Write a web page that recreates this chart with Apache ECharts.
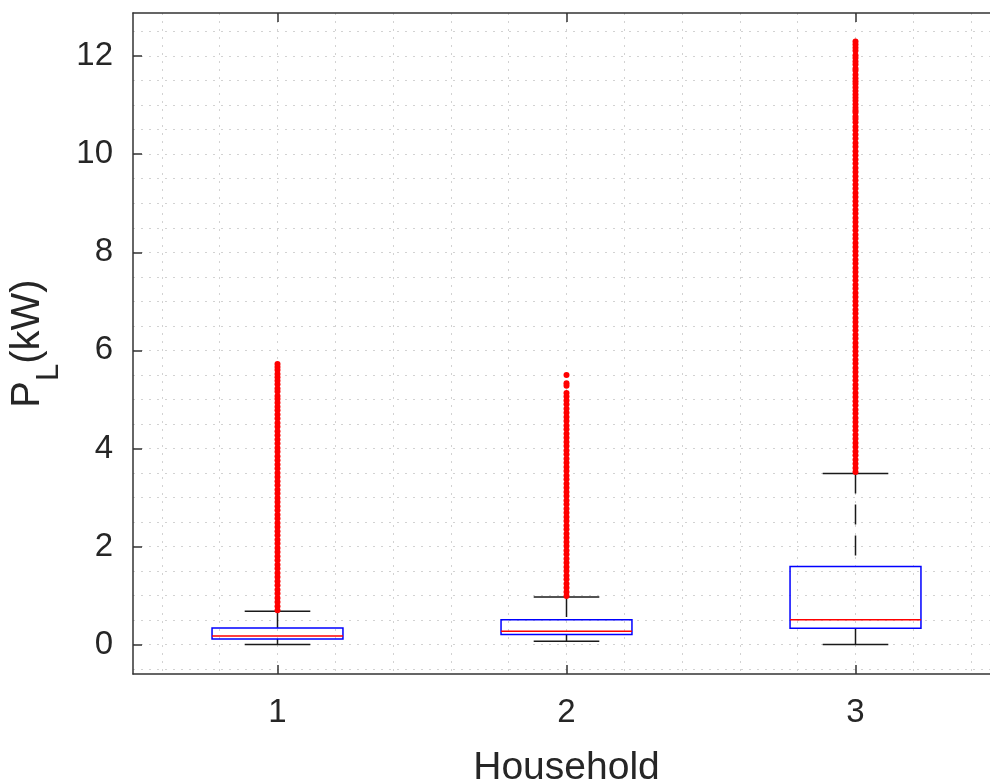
<!DOCTYPE html>
<html>
<head>
<meta charset="utf-8">
<script src="https://cdn.jsdelivr.net/npm/echarts@6/dist/echarts.min.js"></script>
<style>
html,body{margin:0;padding:0;background:#fff;}
#chart{width:990px;height:782px;}
</style>
</head>
<body>
<div id="chart"></div>
<script>
// ---- data ----
const households = [1, 2, 3];
const lowerWhisker = [0.00, 0.067, 0.00];
const q1 = [0.116, 0.204, 0.333];
const median = [0.177, 0.270, 0.504];
const q3 = [0.340, 0.504, 1.590];
const upperWhisker = [0.680, 0.970, 3.490];

const outliersH1 = [0.70,0.78,0.87,0.95,1.04,1.12,1.21,1.29,1.38,1.46,1.55,1.63,1.72,1.80,1.89,1.97,2.06,2.14,2.23,2.31,2.40,2.48,2.57,2.65,2.74,2.82,2.91,2.99,3.08,3.16,3.25,3.33,3.42,3.50,3.59,3.67,3.76,3.84,3.93,4.01,4.10,4.18,4.27,4.35,4.44,4.52,4.61,4.69,4.78,4.85,4.93,5.01,5.07,5.16,5.22,5.31,5.38,5.45,5.52,5.60,5.66,5.72];
const outliersH2 = [0.99,1.07,1.16,1.24,1.33,1.41,1.50,1.58,1.67,1.75,1.84,1.92,2.01,2.09,2.18,2.26,2.35,2.43,2.52,2.60,2.69,2.77,2.86,2.94,3.03,3.11,3.20,3.28,3.37,3.45,3.54,3.62,3.71,3.79,3.88,3.96,4.05,4.13,4.22,4.30,4.39,4.47,4.56,4.64,4.73,4.81,4.90,4.98,5.06,5.13,5.28,5.33,5.50];
const outliersH3 = [3.52,3.60,3.69,3.77,3.86,3.94,4.03,4.11,4.20,4.28,4.37,4.45,4.54,4.62,4.71,4.79,4.88,4.96,5.05,5.13,5.22,5.30,5.39,5.47,5.56,5.64,5.73,5.81,5.90,5.98,6.07,6.15,6.24,6.32,6.41,6.49,6.58,6.66,6.75,6.83,6.92,7.00,7.09,7.17,7.26,7.34,7.43,7.51,7.60,7.68,7.77,7.85,7.94,8.02,8.11,8.19,8.28,8.36,8.45,8.53,8.62,8.70,8.79,8.87,8.96,9.04,9.13,9.21,9.30,9.38,9.47,9.55,9.64,9.72,9.81,9.89,9.98,10.06,10.15,10.23,10.32,10.40,10.49,10.56,10.65,10.72,10.77,10.85,10.89,10.95,11.02,11.09,11.15,11.22,11.29,11.36,11.43,11.49,11.55,11.62,11.70,11.75,11.83,11.89,11.96,12.02,12.11,12.17,12.24,12.30];

const xTickValues = [1, 2, 3];
const yTickValues = [0, 2, 4, 6, 8, 10, 12];
const xGridValues = [0.6, 0.8, 1.0, 1.2, 1.4, 1.6, 1.8, 2.0, 2.2, 2.4, 2.6, 2.8, 3.0, 3.2, 3.4];
const yGridValues = [-0.5, 0, 0.5, 1, 1.5, 2, 2.5, 3, 3.5, 4, 4.5, 5, 5.5, 6, 6.5, 7, 7.5, 8, 8.5, 9, 9.5, 10, 10.5, 11, 11.5, 12, 12.5];
const xRange = [0.5, 3.5];
const yRange = [-0.6, 12.88];

// ---- chart ----
const chart = echarts.init(document.getElementById('chart'), null, {renderer: 'canvas'});
const FONT = "'Liberation Sans', Arial, Helvetica, sans-serif";
const TXT = '#262626';
const AX = '#333333';
const TICK_LEN = 9;
const PLOT_H = 661;
const gridLine = {show: true, lineStyle: {color: '#d2d2d2', width: 1, type: [2, 6]}};

const boxData = households.map((h, i) => [h, lowerWhisker[i], q1[i], median[i], q3[i], upperWhisker[i]]);
const outlierSets = [outliersH1, outliersH2, outliersH3];
const outlierData = [];
outlierSets.forEach((arr, i) => arr.forEach(v => outlierData.push([households[i], v])));

const BOX_HALF = 0.2265, CAP_HALF = 0.1135;

function renderBox(params, api) {
  const x = api.value(0);
  const lo = api.value(1), a = api.value(2), m = api.value(3), b = api.value(4), hi = api.value(5);
  const c = (xx, yy) => api.coord([xx, yy]);
  const black = {stroke: '#1a1a1a', lineWidth: 1.5, fill: null};
  const dashed = {stroke: '#1a1a1a', lineWidth: 1.5, fill: null, lineDash: [20, 11]};
  const line = (p1, p2, style) => ({type: 'line', shape: {x1: p1[0], y1: p1[1], x2: p2[0], y2: p2[1]}, style: style});
  const tl = c(x - BOX_HALF, b), br = c(x + BOX_HALF, a);
  return {
    type: 'group',
    children: [
      line(c(x, hi), c(x, b), dashed),
      line(c(x, a), c(x, lo), dashed),
      line(c(x - CAP_HALF, hi), c(x + CAP_HALF, hi), black),
      line(c(x - CAP_HALF, lo), c(x + CAP_HALF, lo), black),
      {type: 'rect', shape: {x: tl[0], y: tl[1], width: br[0] - tl[0], height: br[1] - tl[1]},
       style: {stroke: '#0000ff', lineWidth: 1.5, fill: null}},
      line(c(x - BOX_HALF, m), c(x + BOX_HALF, m), {stroke: '#ff0000', lineWidth: 1.5})
    ]
  };
}

const option = {
  backgroundColor: '#ffffff',
  animation: false,
  grid: {left: 133, top: 13, width: 867, height: PLOT_H, containLabel: false, outerBoundsMode: 'none'},
  xAxis: [
    { // grid + bottom line
      type: 'value', min: xRange[0], max: xRange[1], position: 'bottom',
      axisLine: {show: true, onZero: false, lineStyle: {color: AX, width: 1.5}},
      axisTick: {show: false, customValues: xGridValues}, axisLabel: {show: false}, splitLine: gridLine
    },
    { // labels
      type: 'value', min: xRange[0], max: xRange[1], position: 'bottom',
      axisLine: {show: false, onZero: false},
      axisTick: {show: false},
      axisLabel: {show: true, customValues: xTickValues, color: TXT, fontSize: 33, fontFamily: FONT, margin: 22},
      splitLine: {show: false},
      name: 'Household', nameLocation: 'middle', nameGap: 75,
      nameTextStyle: {color: TXT, fontSize: 39, fontFamily: FONT}
    },
    { // top border
      type: 'value', min: xRange[0], max: xRange[1], position: 'top',
      axisLine: {show: true, onZero: false, lineStyle: {color: AX, width: 1.5}},
      axisTick: {show: true, inside: true, length: TICK_LEN, customValues: xTickValues, lineStyle: {color: AX, width: 1.5}},
      axisLabel: {show: false}, splitLine: {show: false}
    },
    { // bottom ticks: a top-type axis shifted down to the bottom edge, ticks pointing up
      type: 'value', min: xRange[0], max: xRange[1], position: 'top', offset: -PLOT_H,
      axisLine: {show: false, onZero: false},
      axisTick: {show: true, inside: false, length: TICK_LEN, customValues: xTickValues, lineStyle: {color: AX, width: 1.5}},
      axisLabel: {show: false}, splitLine: {show: false}
    }
  ],
  yAxis: [
    {
      type: 'value', min: yRange[0], max: yRange[1], position: 'left',
      axisLine: {show: true, onZero: false, lineStyle: {color: AX, width: 1.5}},
      axisTick: {show: false, customValues: yGridValues}, axisLabel: {show: false}, splitLine: gridLine
    },
    {
      type: 'value', min: yRange[0], max: yRange[1], position: 'left',
      axisLine: {show: false, onZero: false},
      axisTick: {show: true, inside: true, length: TICK_LEN, customValues: yTickValues, lineStyle: {color: AX, width: 1.5}},
      axisLabel: {show: true, customValues: yTickValues, color: TXT, fontSize: 33, fontFamily: FONT, margin: 20},
      splitLine: {show: false},
      name: '{a|P}{s|L}{a|(kW)}', nameLocation: 'middle', nameGap: 78, nameRotate: 90,
      nameTextStyle: {
        color: TXT, fontFamily: FONT,
        rich: {
          a: {fontSize: 40, fontFamily: FONT, color: TXT, lineHeight: 44, verticalAlign: 'top'},
          s: {fontSize: 31, fontFamily: FONT, color: TXT, lineHeight: 31, padding: [26, 0, 0, 0], verticalAlign: 'top'}
        }
      }
    }
  ],
  series: [
    {
      type: 'custom', xAxisIndex: 0, yAxisIndex: 0, renderItem: renderBox,
      encode: {x: 0, y: [1, 2, 3, 4, 5]}, data: boxData, z: 3, clip: false
    },
    {
      type: 'scatter', xAxisIndex: 0, yAxisIndex: 0, data: outlierData,
      symbol: 'circle', symbolSize: 6, itemStyle: {color: '#ff0000', opacity: 1}, z: 4
    }
  ]
};
chart.setOption(option);
</script>
</body>
</html>
